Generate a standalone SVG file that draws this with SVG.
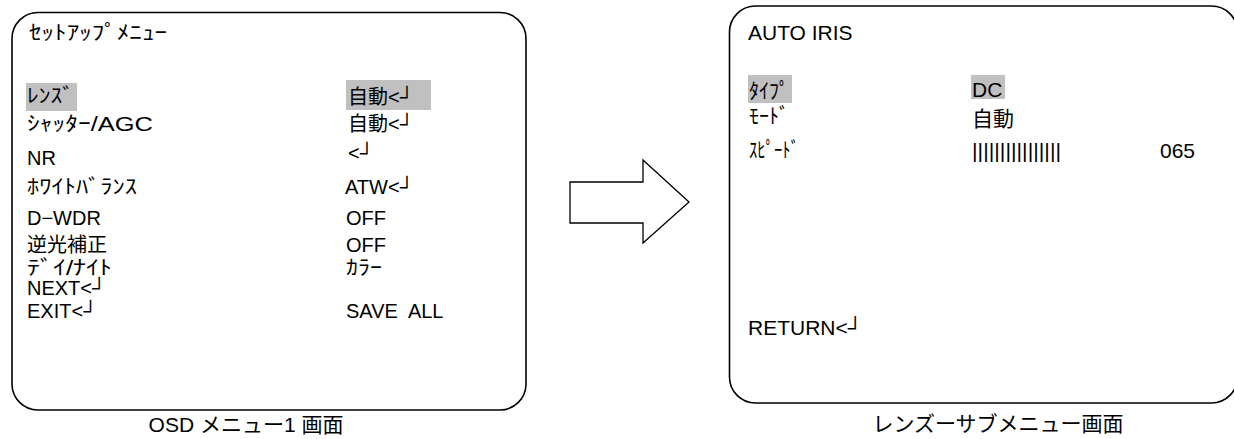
<svg xmlns="http://www.w3.org/2000/svg" width="1234" height="439" viewBox="0 0 1234 439">
<style>
.box{fill:none;stroke:#000;stroke-width:1.6}
.hl{fill:#c0c0c0}
.t{font-family:"Liberation Sans","Noto Sans CJK JP",sans-serif;font-size:20px;fill:#000}
.r{font-size:21px}
.cap{font-family:"Liberation Sans","Noto Sans CJK JP",sans-serif;font-size:21px;fill:#000;text-anchor:middle}
.arrow{fill:#fff;stroke:#000;stroke-width:1.3}
</style>
<rect width="1234" height="439" fill="#fff"/>
<g id="osd-menu">
<rect class="box" x="12" y="12.5" width="514" height="397.5" rx="26" ry="26"/>
<rect class="hl" x="26" y="83" width="51" height="28"/>
<rect class="hl" x="346" y="80" width="85" height="30"/>
<text class="t" x="29" y="40" textLength="138" lengthAdjust="spacingAndGlyphs">ｾｯﾄｱｯﾌﾟﾒﾆｭｰ</text>
<text class="t" x="27" y="103" textLength="47" lengthAdjust="spacingAndGlyphs">ﾚﾝｽﾞ</text>
<text class="t" x="348" y="104">自動&lt;┘</text>
<text class="t" x="27" y="131" textLength="126" lengthAdjust="spacingAndGlyphs">ｼｬｯﾀｰ/AGC</text>
<text class="t" x="348" y="131">自動&lt;┘</text>
<text class="t" x="27" y="165">NR</text>
<text class="t" x="348" y="160">&lt;┘</text>
<text class="t" x="27" y="194" textLength="110" lengthAdjust="spacingAndGlyphs">ﾎﾜｲﾄﾊﾞﾗﾝｽ</text>
<text class="t" x="345" y="194">ATW&lt;┘</text>
<text class="t" x="27" y="225">D−WDR</text>
<text class="t" x="346" y="225">OFF</text>
<text class="t" x="27" y="252">逆光補正</text>
<text class="t" x="346" y="252">OFF</text>
<text class="t" x="27" y="275" textLength="85" lengthAdjust="spacingAndGlyphs">ﾃﾞｲ/ﾅｲﾄ</text>
<text class="t" x="346" y="275" textLength="36" lengthAdjust="spacingAndGlyphs">ｶﾗｰ</text>
<text class="t" x="27" y="295">NEXT&lt;┘</text>
<text class="t" x="27" y="318">EXIT&lt;┘</text>
<text class="t" x="346" y="318" xml:space="preserve">SAVE  ALL</text>
<text class="cap" x="246" y="432">OSD メニュー1 画面</text>
</g>
<g id="lens-submenu">
<rect class="box" x="729.5" y="6" width="508" height="397" rx="26" ry="26"/>
<rect class="hl" x="748" y="75" width="44" height="28"/>
<rect class="hl" x="971" y="75" width="34" height="24"/>
<text class="t r" x="748" y="40">AUTO IRIS</text>
<text class="t r" x="749" y="98" textLength="40" lengthAdjust="spacingAndGlyphs">ﾀｲﾌﾟ</text>
<text class="t r" x="972" y="97">DC</text>
<text class="t r" x="749" y="123" textLength="40" lengthAdjust="spacingAndGlyphs">ﾓｰﾄﾞ</text>
<text class="t r" x="972" y="126">自動</text>
<text class="t r" x="749" y="157" textLength="50" lengthAdjust="spacingAndGlyphs">ｽﾋﾟｰﾄﾞ</text>
<text class="t r" x="972" y="158" textLength="89" lengthAdjust="spacingAndGlyphs">||||||||||||||||</text>
<text class="t r" x="1160" y="158">065</text>
<text class="t r" x="748" y="335">RETURN&lt;┘</text>
<text class="cap" x="998" y="431">レンズーサブメニュー画面</text>
</g>
<g id="connectors">
<polygon class="arrow" points="570,182 643,182 643,160 689,202 643,243 643,223 570,223"/>
</g>
</svg>
